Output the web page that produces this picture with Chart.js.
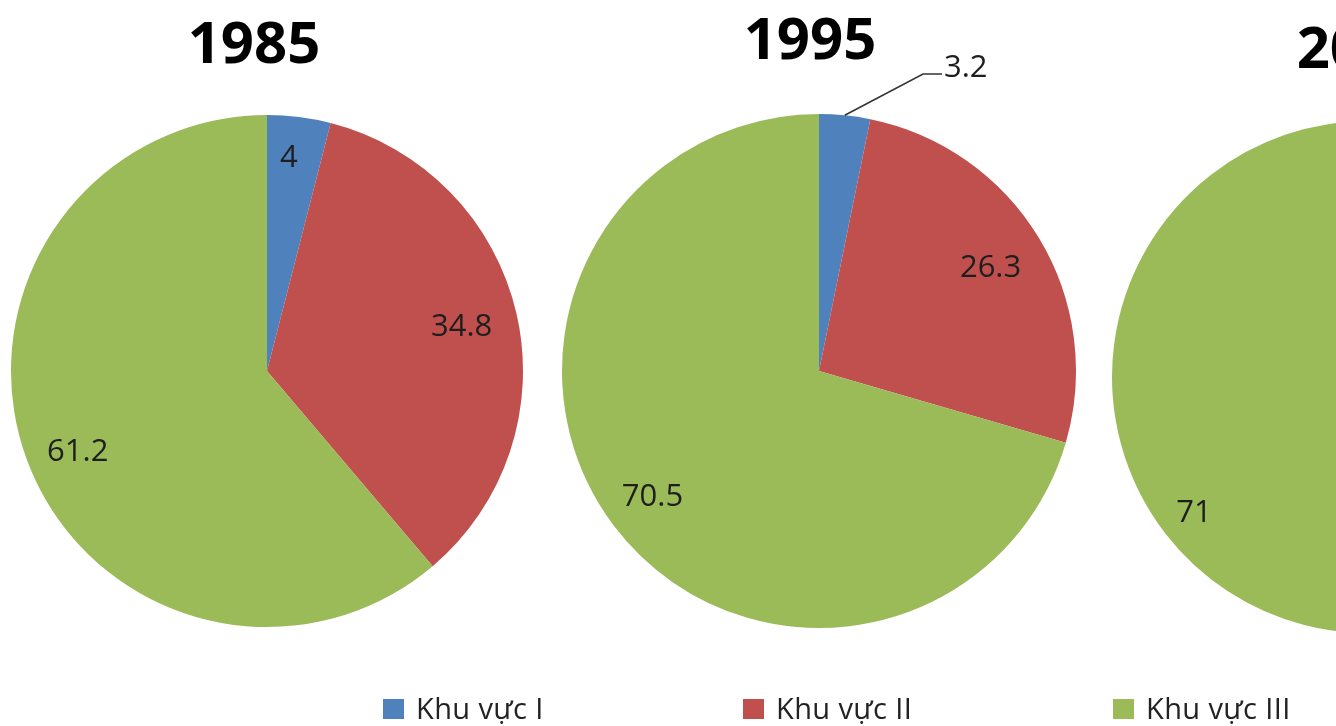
<!DOCTYPE html>
<html>
<head>
<meta charset="utf-8">
<script src="https://cdn.jsdelivr.net/npm/chart.js@4.4.0/dist/chart.umd.min.js"></script>
<style>
  html, body { margin: 0; padding: 0; background: #fff; }
  body { width: 1336px; height: 726px; overflow: hidden; position: relative; font-family: "Open Sans", sans-serif; }
  .pie { position: absolute; top: 0; }
  .legend-item { position: absolute; top: 693px; height: 29px; line-height: 29px; font-size: 29px; color: #222; white-space: nowrap; z-index: 2; }
  .legend-item span.box { position: absolute; left: 0; top: 6px; width: 21px; height: 20px; }
  .legend-item span.txt { position: absolute; left: 33px; top: 0; letter-spacing: 0.4px; }
</style>
</head>
<body>
<div class="pie" id="p1"><canvas id="c1"></canvas></div>
<div class="pie" id="p2"><canvas id="c2"></canvas></div>
<div class="pie" id="p3"><canvas id="c3"></canvas></div>
<div id="legend"></div>
<script>
'use strict';

// data
const years = ['1985', '1995', '2005'];
const categories = ['Khu vực I', 'Khu vực II', 'Khu vực III'];
const values1985 = [4, 34.8, 61.2];
const values1995 = [3.2, 26.3, 70.5];
const values2005 = [2.5, 26.5, 71];
const colors = ['#4F81BD', '#C0504D', '#9BBB59'];

// draws the year over each pie and the value labels on the slices
const pieText = {
    id: 'pieText',
    afterDatasetsDraw: function (chart, args, opts) {
        const ctx = chart.ctx;
        const meta = chart.getDatasetMeta(0);
        const data = chart.data.datasets[0].data;
        let cx = 0, cy = 0;

        ctx.save();
        meta.data.forEach(function (arc, i) {
            const p = arc.getProps(['x', 'y', 'startAngle', 'endAngle', 'outerRadius'], true);
            const mid = (p.startAngle + p.endAngle) / 2;
            cx = p.x;
            cy = p.y;
            ctx.font = '31px "Open Sans"';
            ctx.fillStyle = '#1e1e1e';

            if (opts.callout && opts.callout.index === i) {
                const sx = p.x + Math.cos(mid) * p.outerRadius;
                const sy = p.y + Math.sin(mid) * p.outerRadius;
                const ex = p.x + opts.callout.dx;
                const ey = p.y + opts.callout.dy;
                ctx.strokeStyle = '#333';
                ctx.lineWidth = 1.6;
                ctx.beginPath();
                ctx.moveTo(sx, sy);
                ctx.lineTo(ex, ey);
                ctx.lineTo(ex + 19, ey);
                ctx.stroke();
                ctx.textAlign = 'left';
                ctx.textBaseline = 'alphabetic';
                ctx.fillText(String(data[i]), ex + 21, ey + 3);
                return;
            }

            const r = p.outerRadius * (opts.ratio[i] || 0.8);
            const nudge = (opts.nudge && opts.nudge[i]) || [0, 0];
            ctx.textAlign = 'center';
            ctx.textBaseline = 'middle';
            ctx.fillText(String(data[i]),
                p.x + Math.cos(mid) * r + nudge[0],
                p.y + Math.sin(mid) * r + 1 + nudge[1]);
        });

        ctx.font = 'bold 58px "Open Sans"';
        ctx.fillStyle = '#000';
        ctx.textAlign = 'center';
        ctx.textBaseline = 'alphabetic';
        ctx.fillText(opts.title, cx + opts.titleDx, opts.titleY);
        ctx.restore();
    }
};

function makePie(canvasId, boxId, values, cx, cy, radius, textOpts) {
    const w = 540;
    const h = cy * 2;
    const box = document.getElementById(boxId);
    box.style.left = (cx - w / 2) + 'px';
    box.style.width = w + 'px';
    box.style.height = h + 'px';

    const canvas = document.getElementById(canvasId);
    canvas.width = w;
    canvas.height = h;

    return new Chart(canvas, {
        type: 'pie',
        data: {
            labels: categories,
            datasets: [{
                data: values,
                backgroundColor: colors,
                borderWidth: 0
            }]
        },
        options: {
            responsive: false,
            animation: false,
            devicePixelRatio: 1,
            layout: {
                padding: {
                    left: w / 2 - radius,
                    right: w / 2 - radius,
                    top: cy - radius,
                    bottom: cy - radius
                }
            },
            plugins: {
                legend: { display: false },
                tooltip: { enabled: false },
                pieText: textOpts
            }
        },
        plugins: [pieText]
    });
}

makePie('c1', 'p1', values1985, 267, 371, 256, {
    title: years[0], titleDx: -13, titleY: 63,
    ratio: [0.84, 0.78, 0.8],
    nudge: [[-5, 0], [0, 0], [3, 10]]
});
makePie('c2', 'p2', values1995, 819, 371, 257, {
    title: years[1], titleDx: -9, titleY: 59,
    ratio: [0.8, 0.78, 0.81],
    callout: { index: 0, dx: 104, dy: -297 }
});
makePie('c3', 'p3', values2005, 1368, 377, 256, {
    title: years[2], titleDx: -5, titleY: 68,
    ratio: [0.8, 0.8, 0.86]
});

// legend across the bottom
const legendX = [383, 743, 1113];
const legend = document.getElementById('legend');
categories.forEach(function (name, i) {
    const item = document.createElement('div');
    item.className = 'legend-item';
    item.style.left = legendX[i] + 'px';
    item.innerHTML = '<span class="box" style="background:' + colors[i] + '"></span><span class="txt"></span>';
    item.querySelector('.txt').textContent = name;
    legend.appendChild(item);
});
</script>
</body>
</html>
